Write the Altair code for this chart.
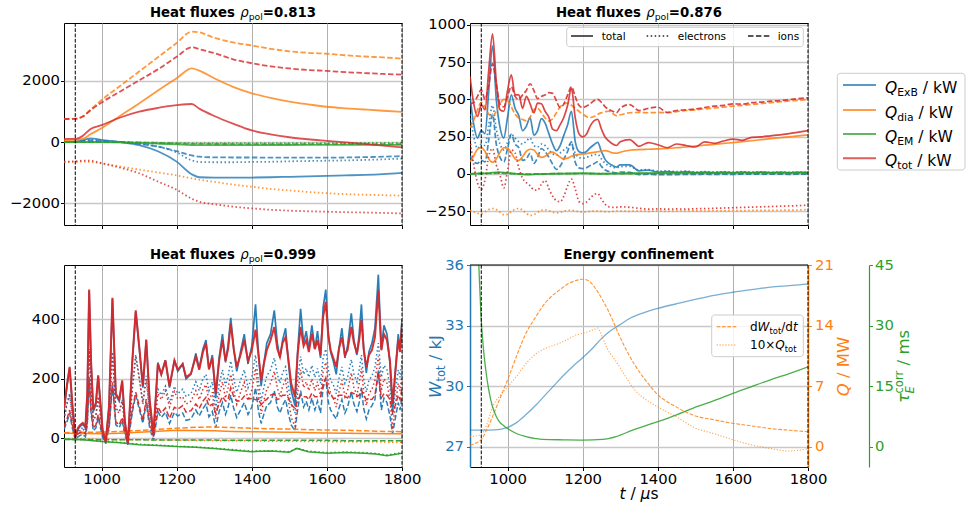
import altair as alt
import pandas as pd

FONT = "DejaVu Sans"
BLUE, ORANGE, GREEN, RED = "#1f77b4", "#ff7f0e", "#2ca02c", "#d62728"

# ---------------- data: top-left, rho_pol = 0.813 ----------------
t_tl = [900, 930, 950, 970, 1000, 1050, 1100, 1150, 1200, 1240, 1260, 1300, 1350, 1400, 1450, 1500, 1550, 1600, 1650, 1700, 1750, 1800]
tl_exb_tot = [0, 10, 60, 120, 70, 0, -100, -300, -640, -1050, -1150, -1165, -1165, -1160, -1150, -1135, -1120, -1105, -1090, -1075, -1050, -1010]
tl_exb_e = [0, 5, 30, 60, 30, 0, -50, -150, -340, -600, -650, -660, -660, -650, -645, -630, -620, -610, -600, -585, -565, -540]
tl_exb_i = [0, 5, 30, 60, 40, 0, -60, -150, -300, -440, -480, -500, -505, -505, -510, -510, -510, -510, -505, -495, -480, -460]
tl_dia_tot = [60, 70, 100, 250, 450, 860, 1260, 1680, 2080, 2400, 2330, 2080, 1800, 1590, 1440, 1320, 1230, 1150, 1100, 1060, 1020, 985]
tl_dia_e = [-650, -650, -640, -650, -700, -800, -900, -995, -1090, -1185, -1230, -1300, -1390, -1460, -1530, -1580, -1630, -1670, -1700, -1720, -1735, -1750]
tl_dia_i = [750, 760, 830, 1050, 1370, 1835, 2300, 2765, 3230, 3600, 3580, 3400, 3250, 3150, 3040, 2960, 2910, 2880, 2830, 2790, 2760, 2720]
tl_em_tot = [0, 0, 0, 0, 0, -10, -30, -55, -80, -100, -100, -100, -100, -100, -98, -97, -96, -95, -94, -92, -91, -90]
tl_em_e = [0, 0, 0, 0, 0, -5, -15, -25, -35, -40, -40, -40, -40, -40, -38, -37, -36, -35, -34, -33, -32, -30]
tl_em_i = [0, 0, 0, 0, 0, -5, -15, -30, -45, -60, -62, -65, -66, -67, -68, -68, -69, -70, -70, -70, -70, -70]
tl_tot_tot = [100, 100, 200, 420, 550, 800, 990, 1110, 1200, 1240, 1090, 850, 600, 380, 250, 155, 90, 40, -10, -60, -120, -175]
tl_tot_e = [-640, -630, -610, -610, -690, -840, -1020, -1290, -1560, -1850, -1950, -2030, -2110, -2165, -2210, -2240, -2260, -2275, -2290, -2300, -2315, -2330]
tl_tot_i = [750, 755, 830, 1030, 1290, 1650, 2010, 2370, 2780, 3090, 3030, 2900, 2700, 2570, 2470, 2400, 2350, 2320, 2280, 2250, 2220, 2200]

# ---------------- data: top-right, rho_pol = 0.876 ----------------
t_tr = [900, 910, 920, 930, 940, 950, 960, 970, 980, 990,
        1000, 1010, 1020, 1030, 1040, 1050, 1060, 1070, 1080, 1090,
        1100, 1110, 1120, 1130, 1140, 1150, 1160, 1170, 1180, 1190,
        1200, 1210, 1220, 1230, 1240, 1250, 1260, 1270, 1280, 1290,
        1300, 1325, 1350, 1375, 1400, 1425, 1450, 1475, 1500, 1525,
        1550, 1575, 1600, 1625, 1650, 1675, 1700, 1725, 1750, 1775,
        1800]
tr_tot_tot = [655, 470, 385, 465, 430, 700, 940, 620, 430, 420,
              560, 665, 530, 530, 440, 520, 470, 410, 475, 470,
              420, 380, 300, 290, 330, 380, 460, 575, 380, 270,
              248, 265, 320, 355, 365, 300, 245, 220, 200, 190,
              215, 230, 185, 210, 195, 175, 200, 190, 180, 215,
              205, 220, 233, 225, 245, 248, 255, 262, 270, 280,
              290]
tr_tot_i = [470, 480, 520, 565, 500, 600, 740, 600, 470, 450,
            520, 585, 520, 500, 530, 560, 605, 560, 505, 520,
            530, 545, 540, 490, 445, 470, 530, 585, 520, 460,
            445, 455, 470, 490, 500, 480, 450, 432, 420, 410,
            440, 465, 425, 440, 448, 412, 425, 430, 435, 445,
            455, 460, 470, 468, 478, 482, 488, 492, 498, 505,
            510]
tr_tot_e = [230, 60, -60, -105, -40, 120, 170, 60, -10, -95,
            20, 160, 140, 40, -30, -60, -80, -108, -110, -70,
            -45, -100, -150, -180, -188, -150, -80, -35, -100, -185,
            -200, -190, -165, -140, -133, -170, -205, -222, -225, -225,
            -222, -225, -232, -238, -235, -238, -236, -238, -235, -234,
            -232, -230, -228, -226, -224, -222, -220, -218, -216, -214,
            -210]
tr_exb_tot = [520, 330, 240, 290, 270, 560, 860, 500, 310, 240,
              380, 530, 440, 390, 290, 320, 377, 260, 290, 370,
              340, 270, 200, 155, 190, 260, 330, 420, 220, 150,
              140, 150, 175, 195, 211, 150, 95, 70, 55, 45,
              60, 60, 20, 25, 12, 15, 10, 14, 8, 12,
              8, 11, 7, 12, 8, 11, 7, 10, 6, 10,
              8]
tr_exb_e = [400, 250, 170, 200, 190, 330, 460, 300, 200, 160,
            210, 265, 240, 215, 200, 220, 240, 190, 180, 200,
            190, 160, 135, 125, 140, 160, 180, 205, 140, 110,
            105, 110, 120, 128, 130, 100, 70, 55, 45, 40,
            48, 50, 25, 28, 18, 20, 15, 18, 12, 15,
            12, 14, 11, 14, 11, 13, 10, 12, 10, 12,
            11]
tr_exb_i = [120, 80, 70, 90, 80, 230, 400, 200, 110, 80,
            170, 265, 200, 175, 90, 100, 137, 70, 110, 170,
            150, 110, 65, 30, 50, 100, 150, 215, 80, 40,
            35, 40, 55, 67, 81, 50, 25, 15, 10, 5,
            12, 10, -5, -3, -6, -5, -5, -4, -4, -3,
            -4, -3, -4, -2, -3, -2, -3, -2, -4, -2,
            -3]
tr_dia_tot = [80, 120, 165, 178, 150, 100, 78, 100, 145, 175,
              172, 140, 100, 90, 115, 150, 165, 160, 130, 110,
              118, 138, 145, 132, 112, 100, 105, 118, 125, 130,
              133, 136, 140, 144, 148, 152, 155, 150, 140, 138,
              145, 158, 163, 165, 167, 170, 175, 180, 186, 192,
              198, 204, 210, 216, 222, 229, 236, 242, 248, 255,
              262]
tr_dia_i = [310, 360, 430, 480, 450, 400, 385, 420, 470, 500,
            490, 450, 400, 375, 365, 355, 380, 430, 440, 410,
            375, 355, 370, 410, 450, 470, 475, 460, 440, 420,
            400, 385, 378, 385, 400, 410, 418, 420, 405, 390,
            395, 410, 412, 410, 412, 410, 418, 425, 430, 436,
            442, 448, 455, 460, 466, 472, 478, 484, 489, 494,
            500]
tr_dia_e = [-245, -255, -265, -268, -255, -240, -233, -240, -258, -275,
            -272, -255, -238, -233, -245, -265, -280, -275, -258, -245,
            -242, -248, -258, -262, -258, -250, -245, -245, -250, -255,
            -256, -255, -252, -250, -250, -252, -254, -255, -253, -250,
            -250, -252, -250, -252, -250, -252, -250, -250, -249, -250,
            -248, -249, -247, -248, -246, -246, -245, -245, -244, -243,
            -240]
t_tr_em = [900, 925, 950, 975, 1000, 1025, 1050, 1075, 1100, 1150, 1200, 1250, 1300, 1400, 1500, 1600, 1700, 1800]
tr_em_tot = [0, 3, 5, 12, 6, 0, -5, -3, 0, 2, 4, 1, 3, 5, 6, 6, 8, 8]
tr_em_e = [0, 2, 3, 8, 4, 0, -3, -2, 0, 1, 2, 1, 2, 3, 4, 4, 5, 5]
tr_em_i = [0, 1, 2, 4, 2, 0, -2, -1, 0, 1, 2, 0, 1, 2, 2, 2, 3, 3]

# ---------------- data: bottom-left, rho_pol = 0.999 ----------------
t_bl = [900, 908, 915, 922, 930, 937, 943, 950, 957, 962,
        967, 972, 978, 985, 991, 997, 1003, 1011, 1020, 1029,
        1038, 1047, 1055, 1062, 1070, 1076, 1082, 1091, 1101, 1110,
        1119, 1128, 1138, 1145, 1150, 1159, 1170, 1181, 1194, 1203,
        1216, 1225, 1238, 1251, 1260, 1270, 1278, 1286, 1295, 1304,
        1313, 1322, 1330, 1337, 1344, 1352, 1360, 1370, 1380, 1390,
        1400, 1410, 1418, 1425, 1432, 1440, 1450, 1460, 1468, 1475,
        1482, 1490, 1498, 1505, 1515, 1522, 1530, 1538, 1545, 1552,
        1560, 1568, 1575, 1583, 1590, 1597, 1604, 1610, 1617, 1625,
        1632, 1640, 1648, 1655, 1665, 1672, 1680, 1686, 1692, 1698,
        1705, 1712, 1720, 1728, 1737, 1745, 1752, 1760, 1768, 1775,
        1782, 1790, 1795, 1800]
bl_tot_tot = [100, 180, 240, 120, 5, 35, 45, 52, 40, 150,
              500, 260, 95, 120, 212, 120, 28, -12, 110, 472,
              150, 130, 195, 60, -18, 120, 262, 430, 300, 175,
              332, 130, 15, 150, 250, 215, 262, 175, 262, 230,
              250, 205, 218, 275, 230, 290, 318, 232, 270, 150,
              260, 330, 260, 300, 385, 300, 240, 280, 330, 260,
              296, 365, 280, 195, 250, 296, 330, 374, 300, 274,
              320, 340, 260, 184, 140, 280, 374, 310, 330, 290,
              352, 300, 330, 280, 408, 458, 340, 296, 270, 240,
              300, 340, 280, 296, 374, 320, 285, 330, 397, 300,
              240, 280, 296, 340, 497, 296, 350, 330, 260, 117,
              220, 330, 290, 385]
bl_exb_tot = [95, 175, 235, 115, 0, 30, 40, 48, 35, 145,
              495, 255, 90, 115, 210, 115, 22, -18, 105, 468,
              145, 125, 190, 55, -22, 115, 258, 425, 295, 170,
              330, 125, 8, 148, 255, 215, 262, 170, 262, 225,
              250, 200, 215, 285, 235, 300, 330, 232, 280, 135,
              270, 350, 255, 315, 405, 300, 225, 290, 350, 250,
              310, 450, 280, 175, 250, 320, 350, 430, 320, 270,
              330, 370, 250, 160, 110, 290, 435, 320, 360, 300,
              380, 300, 360, 270, 440, 500, 350, 290, 260, 215,
              300, 370, 270, 310, 420, 330, 280, 350, 450, 300,
              220, 290, 320, 370, 550, 300, 380, 350, 250, 90,
              220, 350, 300, 400]
bl_exb_e = [65, 120, 150, 80, 5, 25, 30, 35, 30, 100,
            300, 170, 65, 80, 140, 80, 20, -5, 75, 290,
            100, 90, 130, 45, -5, 80, 170, 280, 200, 120,
            210, 90, 15, 100, 165, 145, 175, 120, 175, 150,
            165, 140, 150, 190, 160, 200, 215, 160, 190, 100,
            180, 230, 175, 210, 260, 200, 155, 195, 230, 170,
            205, 280, 190, 125, 170, 210, 230, 270, 215, 185,
            220, 240, 170, 115, 85, 195, 275, 215, 235, 205,
            245, 205, 235, 185, 270, 300, 230, 195, 180, 150,
            200, 240, 185, 205, 265, 215, 190, 230, 280, 200,
            155, 195, 210, 240, 320, 205, 245, 230, 175, 75,
            155, 230, 205, 260]
bl_exb_i = [30, 55, 85, 35, -5, 5, 10, 13, 5, 45,
            195, 85, 25, 35, 70, 35, 2, -13, 30, 178,
            45, 35, 60, 10, -17, 35, 88, 145, 95, 50,
            120, 35, -7, 48, 90, 70, 87, 50, 87, 75,
            85, 60, 65, 95, 75, 100, 115, 72, 90, 35,
            90, 120, 80, 105, 145, 100, 70, 95, 120, 80,
            105, 170, 90, 50, 80, 110, 120, 160, 105, 85,
            110, 130, 80, 45, 25, 95, 160, 105, 125, 95,
            135, 95, 125, 85, 170, 200, 120, 95, 80, 65,
            100, 130, 85, 105, 155, 115, 90, 120, 170, 100,
            65, 95, 110, 130, 230, 95, 135, 120, 75, 15,
            65, 120, 95, 140]
bl_tot_e = [62, 115, 145, 75, 2, 20, 26, 30, 25, 95,
            295, 165, 60, 75, 135, 75, 15, -10, 70, 285,
            95, 85, 125, 40, -10, 75, 165, 275, 195, 115,
            200, 80, 5, 90, 150, 130, 160, 105, 158, 132,
            140, 115, 125, 160, 130, 165, 180, 125, 155, 65,
            145, 190, 135, 170, 215, 160, 115, 155, 188, 128,
            162, 235, 148, 82, 126, 165, 185, 225, 170, 140,
            175, 195, 125, 70, 40, 150, 230, 170, 190, 160,
            200, 160, 190, 140, 225, 255, 185, 150, 135, 105,
            155, 195, 140, 160, 220, 170, 145, 185, 235, 155,
            110, 150, 165, 195, 275, 160, 200, 185, 130, 30,
            110, 185, 160, 215]
bl_tot_i = [40, 65, 95, 45, 5, 15, 20, 22, 15, 55,
            205, 95, 35, 45, 80, 45, 12, -3, 40, 188,
            55, 45, 70, 20, -7, 45, 98, 155, 105, 60,
            132, 50, 10, 62, 105, 85, 102, 68, 104, 98,
            110, 88, 93, 115, 100, 125, 138, 107, 115, 85,
            115, 140, 125, 130, 170, 140, 125, 125, 142, 132,
            134, 130, 132, 113, 124, 131, 145, 149, 130, 134,
            145, 145, 135, 114, 100, 130, 144, 140, 140, 130,
            152, 140, 140, 140, 183, 203, 155, 146, 135, 135,
            145, 145, 140, 136, 154, 150, 140, 145, 162, 145,
            130, 130, 131, 145, 222, 136, 150, 145, 130, 87,
            110, 145, 130, 170]
t_bl_slow = [900, 950, 1000, 1050, 1100, 1150, 1200, 1250, 1300, 1350, 1400, 1450, 1500, 1520, 1550, 1600, 1650, 1700, 1730, 1760, 1800]
bl_dia_tot = [17, 16, 15, 17, 20, 24, 27, 26, 25, 23, 22, 21, 20, 20, 19, 18, 17, 16, 16, 15, 15]
bl_dia_i = [19, 20, 21, 23, 26, 30, 34, 37, 38, 36, 34, 32, 31, 30, 29, 28, 27, 25, 24, 23, 22]
bl_dia_e = [-2, -3, -4, -5, -5, -5, -6, -7, -8, -8, -9, -10, -10, -10, -11, -11, -12, -12, -12, -13, -13]
bl_em_tot = [-3, -5, -11, -15, -22, -24, -28, -30, -34, -40, -45, -43, -47, -34, -45, -50, -48, -50, -53, -59, -50]
bl_em_e = [-3, -4, -10, -14, -20, -23, -27, -29, -33, -38, -43, -42, -45, -33, -43, -48, -46, -48, -51, -56, -48]
bl_em_i = [-4, -4, -5, -5, -5, -6, -6, -6, -6, -7, -7, -7, -7, -7, -7, -7, -8, -8, -8, -8, -8]

# ---------------- data: bottom-right, energy confinement ----------------
t_w = [900, 950, 980, 1000, 1025, 1050, 1075, 1100, 1125, 1150, 1175, 1200, 1225, 1250, 1275, 1300, 1325, 1350, 1375, 1400, 1450, 1500, 1550, 1600, 1650, 1700, 1750, 1800]
w_tot = [27.82, 27.82, 27.85, 27.95, 28.2, 28.6, 29.05, 29.55, 30.05, 30.55, 31.0, 31.4, 31.85, 32.35, 32.75, 33.05, 33.35, 33.55, 33.72, 33.85, 34.08, 34.3, 34.5, 34.65, 34.78, 34.9, 34.98, 35.06]
t_q = [900, 929, 945, 960, 980, 1000, 1025, 1049, 1075, 1093, 1115, 1138, 1160, 1182, 1200, 1215, 1227, 1240, 1253, 1266, 1280, 1298, 1316, 1338, 1360, 1380, 1400, 1425, 1449, 1470, 1493, 1550, 1600, 1650, 1698, 1750, 1800]
q_dwdt = [0.2, 0.77, 2.0, 3.47, 5.6, 7.7, 10.6, 13.1, 15.0, 16.2, 17.3, 18.1, 18.8, 19.2, 19.35, 19.2, 18.7, 17.9, 16.96, 15.9, 14.6, 12.8, 11.2, 9.5, 8.1, 7.0, 6.0, 5.2, 4.6, 4.1, 3.66, 3.1, 2.7, 2.4, 2.1, 1.9, 1.73]
q_tot10 = [1.16, 1.4, 2.6, 4.6, 5.9, 6.9, 8.2, 9.6, 10.7, 11.2, 11.6, 11.95, 12.4, 12.9, 13.1, 13.3, 13.5, 13.7, 12.6, 11.3, 10.4, 9.25, 8.0, 6.6, 5.7, 5.1, 4.6, 4.0, 3.47, 2.9, 2.3, 1.5, 0.8, 0.2, -0.2, -0.5, -0.25]
t_tau = [915, 920, 923, 929, 935, 942, 950, 960, 970, 978, 990, 1000, 1025, 1049, 1075, 1093, 1150, 1200, 1253, 1289, 1333, 1400, 1450, 1493, 1550, 1600, 1650, 1698, 1750, 1800]
tau_corr = [68, 52, 46, 33, 25, 19, 14, 9.9, 7.5, 6.2, 5.2, 4.5, 3.2, 2.5, 2.0, 1.8, 1.7, 1.65, 1.8, 2.5, 4.1, 6.2, 7.9, 9.5, 11.4, 13.2, 14.9, 16.5, 18.1, 19.8]

vline_t = [930, 1800]
x_ticks = [1000, 1200, 1400, 1600, 1800]

# ---------------- helpers ----------------
PW, PH = 338, 202
ONE = pd.DataFrame({"k": [0]})
DASH = {"electrons": [1.5, 2.5], "ions": [5.5, 2.4]}

REG = {" ": .318, "/": .337, ".": .318, "=": .838, "\u00d7": .838, "B": .686, "E": .632, "J": .295,
       "M": .863, "Q": .787, "W": .989, "a": .613, "b": .635, "c": .550, "d": .635, "e": .615,
       "i": .278, "k": .579, "l": .278, "m": .974, "n": .634, "o": .612, "p": .635, "r": .411,
       "s": .521, "t": .392, "x": .592, "\u03c1": .635, "\u03c4": .581, "\u03bc": .636}
BOLD = {" ": .348, ".": .380, "=": .838, "E": .683, "H": .837, "a": .675, "c": .593, "e": .678,
        "f": .435, "g": .716, "i": .343, "l": .343, "m": 1.042, "n": .712, "o": .687, "r": .493,
        "s": .595, "t": .478, "u": .712, "x": .663, "y": .652}
for d in "0123456789":
    REG[d] = .636
    BOLD[d] = .696


def tw(s, size, bold=False):
    tab = BOLD if bold else REG
    return sum(tab.get(c, 0.6) for c in s) * size


def pc(text, size, weight="normal", style="normal", dy=0.0, advance=True):
    return dict(text=text, size=size, weight=weight, style=style, dy=dy, advance=advance)


def rich(pieces, x, y, anchor="middle", angle=0, color="black"):
    """Draw a run of text pieces (mixed styles / sub- and superscripts) one after another."""
    total = sum(tw(p["text"], p["size"], p["weight"] == "bold") for p in pieces if p["advance"])
    off = {"left": 0.0, "middle": -total / 2.0, "right": -total}[anchor]
    out = []
    for p in pieces:
        bold = p["weight"] == "bold"
        txt = p["text"]
        core = txt.strip(" ")
        lead = len(txt) - len(txt.lstrip(" "))
        start = off + tw(" " * lead, p["size"], bold)
        out.append(alt.Chart(ONE).mark_text(
            text=core, align="left", baseline="alphabetic", dx=start, dy=p["dy"], angle=angle,
            font=FONT, fontSize=p["size"], fontWeight=p["weight"], fontStyle=p["style"], color=color
        ).encode(x=alt.value(x), y=alt.value(y)))
        if p["advance"]:
            off += tw(txt, p["size"], bold)
    return out


def heat_title(val):
    return rich([pc("Heat fluxes ", 13.3, "bold"), pc("\u03c1", 13.3, style="italic"),
                 pc("pol", 9.3, dy=2.8), pc("=" + val, 13.3, "bold")], PW / 2, -6)


def xenc(labels, **kw):
    return alt.X("t:Q", scale=alt.Scale(domain=[900, 1800], nice=False, zero=False),
                 axis=alt.Axis(values=x_ticks, labels=labels, title=None, grid=True, format="d",
                               labelFlush=False, **kw))


def yenc(dom, values, **kw):
    return alt.Y("v:Q", scale=alt.Scale(domain=dom, nice=False, zero=False),
                 axis=alt.Axis(values=values, title=None, format="d", **kw))


def line(t, v, color, part, xe, ye, width=1.5, opacity=1.0, dash=None, interp="linear"):
    df = pd.DataFrame({"t": t, "v": v})
    kw = dict(color=color, strokeWidth=width, opacity=opacity, clip=True, interpolate=interp)
    if dash is not None:
        kw["strokeDash"] = dash
    elif part in DASH:
        kw["strokeDash"] = DASH[part]
    return alt.Chart(df).mark_line(**kw).encode(x=xe, y=ye)


def vlines(xe):
    return alt.Chart(pd.DataFrame({"t": vline_t})).mark_rule(
        color="black", strokeDash=[3.7, 1.6], strokeWidth=1).encode(x=xe)


def hrule(x1, x2, y, color, dash=None, width=1.5, opacity=1.0):
    kw = dict(color=color, strokeWidth=width, opacity=opacity)
    if dash is not None:
        kw["strokeDash"] = dash
    return alt.Chart(ONE).mark_rule(**kw).encode(x=alt.value(x1), x2=alt.value(x2), y=alt.value(y))


def box(x1, x2, y1, y2):
    return alt.Chart(ONE).mark_rect(fill="white", fillOpacity=0.85, stroke="#cccccc", strokeWidth=1,
                                    cornerRadius=3).encode(
        x=alt.value(x1), x2=alt.value(x2), y=alt.value(y1), y2=alt.value(y2))


def heat_panel(t_groups, dom, yvals, labels, width_map, opacity, interp, base_width):
    xe = xenc(labels)
    ye = yenc(dom, yvals, grid=True)
    layers = []
    for t, v, color, part in t_groups:
        layers.append(line(t, v, color, part, xe, ye, width=width_map.get((color, part), base_width),
                           opacity=opacity, interp=interp))
    layers.append(vlines(xe))
    return layers


# ---------------- top-left ----------------
anchor = alt.Chart(ONE).mark_rule(opacity=0, strokeWidth=1).encode(
    x=alt.value(-63.5), x2=alt.value(-62.5), y=alt.value(-22.5))
tl_series = [
    (t_tl, tl_exb_tot, BLUE, "total"), (t_tl, tl_exb_e, BLUE, "electrons"), (t_tl, tl_exb_i, BLUE, "ions"),
    (t_tl, tl_dia_tot, ORANGE, "total"), (t_tl, tl_dia_e, ORANGE, "electrons"), (t_tl, tl_dia_i, ORANGE, "ions"),
    (t_tl, tl_em_tot, GREEN, "total"), (t_tl, tl_em_e, GREEN, "electrons"), (t_tl, tl_em_i, GREEN, "ions"),
    (t_tl, tl_tot_tot, RED, "total"), (t_tl, tl_tot_e, RED, "electrons"), (t_tl, tl_tot_i, RED, "ions"),
]
TL = alt.layer(anchor, *heat_panel(tl_series, [-2708, 3883], [-2000, 0, 2000], False, {}, 0.8, "monotone", 1.8),
               *heat_title("0.813")).properties(width=PW, height=PH)

# ---------------- top-right ----------------
tr_series = [
    (t_tr, tr_exb_tot, BLUE, "total"), (t_tr, tr_exb_e, BLUE, "electrons"), (t_tr, tr_exb_i, BLUE, "ions"),
    (t_tr, tr_dia_tot, ORANGE, "total"), (t_tr, tr_dia_e, ORANGE, "electrons"), (t_tr, tr_dia_i, ORANGE, "ions"),
    (t_tr_em, tr_em_tot, GREEN, "total"), (t_tr_em, tr_em_e, GREEN, "electrons"), (t_tr_em, tr_em_i, GREEN, "ions"),
    (t_tr, tr_tot_tot, RED, "total"), (t_tr, tr_tot_e, RED, "electrons"), (t_tr, tr_tot_i, RED, "ions"),
]
tr_legend = [box(96.7, 333.3, 4.3, 23.7),
             hrule(101, 123, 13, "#222222"),
             hrule(176.7, 199, 13, "#222222", dash=DASH["electrons"]),
             hrule(278, 300, 13, "#222222", dash=DASH["ions"])]
tr_legend += rich([pc("total", 10.5)], 131.7, 16.8, anchor="left")
tr_legend += rich([pc("electrons", 10.5)], 207.7, 16.8, anchor="left")
tr_legend += rich([pc("ions", 10.5)], 307.7, 16.8, anchor="left")

main_legend = [box(367.3, 495, 50.3, 147)]
leg_rows = [(BLUE, "ExB", 62), (ORANGE, "dia", 87), (GREEN, "EM", 111), (RED, "tot", 135.3)]
for color, sub, yy in leg_rows:
    main_legend.append(hrule(373, 406, yy, color, width=2, opacity=0.75))
    main_legend += rich([pc("Q", 15.5, style="italic"), pc(sub, 10.8, dy=3.5), pc(" / kW", 15.5)],
                        415, yy + 7.5, anchor="left")

TR = alt.layer(*heat_panel(tr_series, [-344, 1013], [-250, 0, 250, 500, 750, 1000], False, {}, 0.85, "monotone", 1.7),
               *tr_legend, *main_legend, *heat_title("0.876")).properties(width=PW, height=PH)

# ---------------- bottom-left ----------------
bl_series = [
    (t_bl, bl_exb_i, BLUE, "ions"), (t_bl, bl_exb_e, BLUE, "electrons"), (t_bl, bl_exb_tot, BLUE, "total"),
    (t_bl_slow, bl_dia_tot, ORANGE, "total"), (t_bl_slow, bl_dia_e, ORANGE, "electrons"), (t_bl_slow, bl_dia_i, ORANGE, "ions"),
    (t_bl_slow, bl_em_tot, GREEN, "total"), (t_bl_slow, bl_em_e, GREEN, "electrons"), (t_bl_slow, bl_em_i, GREEN, "ions"),
    (t_bl, bl_tot_i, RED, "ions"), (t_bl, bl_tot_e, RED, "electrons"), (t_bl, bl_tot_tot, RED, "total"),
]
BL = alt.layer(*heat_panel(bl_series, [-96.5, 582.5], [0, 200, 400], True,
                           {(RED, "total"): 2.0, (BLUE, "total"): 1.7}, 0.95, "linear", 1.5),
               *heat_title("0.999")).properties(width=PW, height=PH)

# ---------------- bottom-right ----------------
xe_br = xenc(True, domain=True, domainColor="black", domainWidth=1)
ye_w = yenc([25.99, 36], [27, 30, 33, 36], orient="left", grid=True, labelColor=BLUE, tickColor=BLUE,
            domain=True, domainColor=BLUE, domainWidth=1.5, labelPadding=3)
ye_q = yenc([-2.35, 21], [0, 7, 14, 21], orient="right", grid=False, labelColor=ORANGE, tickColor=ORANGE,
            domain=True, domainColor=ORANGE, domainWidth=1.5, labelPadding=3)
ye_tau = yenc([-5.03, 45], [0, 15, 30, 45], orient="right", offset=61, grid=False, labelColor=GREEN,
              tickColor=GREEN, domain=True, domainColor=GREEN, domainWidth=1.2, labelPadding=2)

w_layer = line(t_w, w_tot, BLUE, "total", xe_br, ye_w, width=1.3, opacity=0.6, interp="monotone")
q_layer = alt.layer(
    line(t_q, q_dwdt, ORANGE, "ions", xe_br, ye_q, width=1.1, opacity=0.85, dash=[3.7, 1.6], interp="monotone"),
    line(t_q, q_tot10, ORANGE, "electrons", xe_br, ye_q, width=1.1, opacity=0.75, dash=[1.1, 1.8], interp="monotone"),
)
tau_layer = line(t_tau, tau_corr, GREEN, "total", xe_br, ye_tau, width=1.3, opacity=0.85, interp="monotone")

br_deco = [vlines(xe_br), hrule(0, PW, 0, "black", width=1)]
br_deco += [box(241.7, 333.3, 50, 91.7),
            hrule(246.7, 266.7, 61.7, ORANGE, dash=[3.7, 1.6], width=1.1),
            hrule(246.7, 266.7, 80, ORANGE, dash=[1.1, 1.8], width=1.1)]
br_deco += rich([pc("d", 12), pc("W", 12, style="italic"), pc("tot", 8.4, dy=3), pc("/d", 12),
                 pc("t", 12, style="italic")], 280, 66, anchor="left")
br_deco += rich([pc("10\u00d7", 12), pc("Q", 12, style="italic"), pc("tot", 8.4, dy=3)], 280, 84.2, anchor="left")
br_deco += rich([pc("Energy confinement", 13.3, "bold")], PW / 2, -6)
br_deco += rich([pc("t", 15.5, style="italic"), pc(" / ", 15.5), pc("\u03bc", 15.5, style="italic"),
                 pc("s", 15.5)], PW / 2, 234)
br_deco += rich([pc("W", 16.5, style="italic"), pc("tot", 11.5, dy=4), pc(" / kJ", 16.5)],
                -29, 101.5, angle=270, color=BLUE)
br_deco += rich([pc("Q", 16.5, style="italic"), pc(" / MW", 16.5)], 379, 101.5, angle=270, color=ORANGE)
br_deco += rich([pc("\u03c4", 16.5, style="italic"), pc("E", 11.5, style="italic", dy=4.5, advance=False),
                 pc("corr", 11.5, dy=-6.5), pc(" / ms", 16.5)], 439, 101.5, angle=270, color=GREEN)

BR = alt.layer(w_layer, q_layer, tau_layer, *br_deco).resolve_scale(y="independent").properties(
    width=PW, height=PH, view=alt.ViewBackground(strokeOpacity=0))

chart = alt.concat(TL, TR, BL, BR, columns=2, spacing={"row": 40, "column": 68}, bounds="flush").properties(
    padding=0
).configure(font=FONT).configure_view(stroke="black", strokeWidth=1).configure_axis(
    labelFont=FONT, labelFontSize=14.8, labelColor="black", tickColor="black", tickSize=3.5,
    domain=False, labelPadding=1, gridColor="#c8c8c8", gridWidth=1.3
).configure_axisX(gridColor="#b0b0b0", gridWidth=1)

chart.save("out.html", embed_options={"renderer": "svg", "actions": False})
